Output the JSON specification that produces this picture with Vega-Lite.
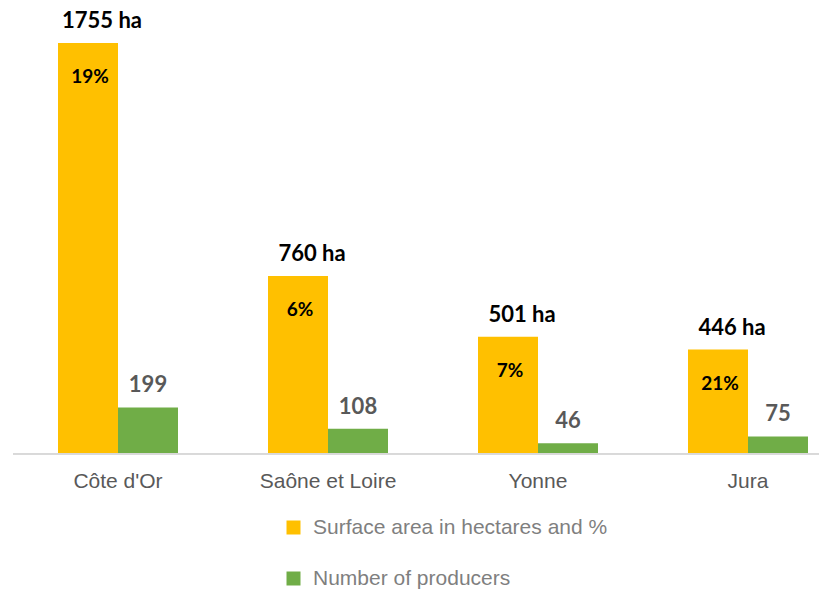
{
  "$schema": "https://vega.github.io/schema/vega-lite/v6.json",
  "width": 806,
  "height": 445,
  "autosize": {"type": "none"},
  "padding": {"left": 13, "top": 9, "right": 2, "bottom": 135},
  "background": "white",
  "config": {"view": {"stroke": null}},
  "data": {
    "values": [
      {"dept": "Côte d'Or", "series": "Surface area in hectares and %", "value": 1755, "label": "1755 ha", "pct": "19%"},
      {"dept": "Côte d'Or", "series": "Number of producers", "value": 199, "label": "199", "pct": ""},
      {"dept": "Saône et Loire", "series": "Surface area in hectares and %", "value": 760, "label": "760 ha", "pct": "6%"},
      {"dept": "Saône et Loire", "series": "Number of producers", "value": 108, "label": "108", "pct": ""},
      {"dept": "Yonne", "series": "Surface area in hectares and %", "value": 501, "label": "501 ha", "pct": "7%"},
      {"dept": "Yonne", "series": "Number of producers", "value": 46, "label": "46", "pct": ""},
      {"dept": "Jura", "series": "Surface area in hectares and %", "value": 446, "label": "446 ha", "pct": "21%"},
      {"dept": "Jura", "series": "Number of producers", "value": 75, "label": "75", "pct": ""}
    ]
  },
  "encoding": {
    "x": {
      "field": "dept", "type": "nominal", "sort": null,
      "scale": {"range": [0, 840], "paddingInner": 0.4286, "paddingOuter": 0.2143},
      "axis": {"title": null, "domain": false, "ticks": false, "labelAngle": 0, "labelPadding": 16,
               "labelFont": "Liberation Sans", "labelFontSize": 21, "labelColor": "#595959"}
    },
    "xOffset": {"field": "series", "type": "nominal", "sort": ["Surface area in hectares and %", "Number of producers"]},
    "y": {
      "field": "value", "type": "quantitative",
      "scale": {"domain": [0, 1900], "nice": false},
      "axis": null
    }
  },
  "layer": [
    {
      "mark": {"type": "bar"},
      "encoding": {
        "color": {
          "field": "series", "type": "nominal",
          "scale": {"domain": ["Surface area in hectares and %", "Number of producers"], "range": ["#FFC000", "#70AD47"]},
          "legend": {
            "title": null, "orient": "none", "legendX": 270, "legendY": 508, "direction": "vertical",
            "symbolType": "square", "symbolSize": 196, "symbolStrokeWidth": 0,
            "labelFont": "Liberation Sans", "labelFontSize": 21, "labelColor": "#7f7f7f",
            "labelOffset": 9, "rowPadding": 29, "labelLimit": 500
          }
        }
      }
    },
    {
      "mark": {"type": "rule", "color": "#d9d9d9", "strokeWidth": 1},
      "encoding": {"y": {"datum": 0}, "x": null, "xOffset": null}
    },
    {
      "transform": [{"filter": "datum.series === 'Surface area in hectares and %'"}],
      "mark": {"type": "text", "font": "Lato", "fontWeight": "bold", "fontSize": 22, "color": "#000000", "baseline": "alphabetic", "dy": -15, "dx": 14},
      "encoding": {"text": {"field": "label"}}
    },
    {
      "transform": [{"filter": "datum.series === 'Surface area in hectares and %'"}],
      "mark": {"type": "text", "font": "Lato", "fontWeight": "bold", "fontSize": 19, "color": "#000000", "baseline": "alphabetic", "dy": 40, "dx": 2},
      "encoding": {"text": {"field": "pct"}}
    },
    {
      "transform": [{"filter": "datum.series === 'Number of producers'"}],
      "mark": {"type": "text", "font": "Lato", "fontWeight": "bold", "fontSize": 22, "color": "#595959", "baseline": "alphabetic", "dy": -15},
      "encoding": {"text": {"field": "label"}}
    }
  ]
}
